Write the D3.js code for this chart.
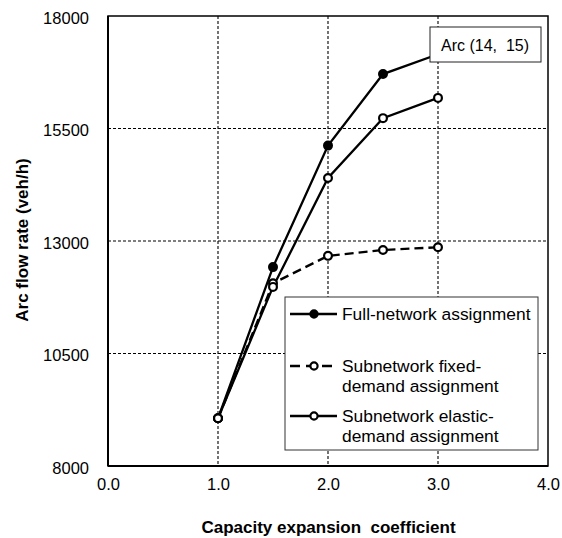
<!DOCTYPE html>
<html><head><meta charset="utf-8">
<script src="https://cdn.jsdelivr.net/npm/d3@7"></script>
<style>body{margin:0;background:#fff}svg{display:block;font-family:Arial,"Liberation Sans",sans-serif}</style>
</head><body><svg id="c" width="562" height="538"></svg>
<script>
const xValues = [1.0, 1.5, 2.0, 2.5, 3.0];
const fullNetwork = [9060, 12420, 15120, 16710, 17150];
const fixedDemand = [9060, 12060, 12670, 12800, 12860];
const elasticDemand = [9060, 11980, 14400, 15730, 16180];
const xTicks = [0, 1, 2, 3, 4];
const yTicks = [8000, 10500, 13000, 15500, 18000];
const seriesNames = ["Full-network assignment", "Subnetwork fixed-\ndemand assignment", "Subnetwork elastic-\ndemand assignment"];
const arcLabel = "Arc (14,\u00a0 15)";
const xTitle = "Capacity expansion\u00a0 coefficient";
const yTitle = "Arc flow rate (veh/h)";

const svg = d3.select("#c");
const L = 108, R = 548, T = 16, B = 466;
const x = d3.scaleLinear().domain([0, 4]).range([L, R]);
const y = d3.scaleLinear().domain([8000, 18000]).range([B, T]);

// grid
const g = svg.append("g");
g.selectAll(".gx").data(xTicks.slice(1, -1)).join("line")
  .attr("x1", d => x(d)).attr("x2", d => x(d)).attr("y1", T).attr("y2", B)
  .attr("stroke", "#000").attr("stroke-width", 1.1).attr("stroke-dasharray", "3,2");
g.selectAll(".gy").data(yTicks.slice(1, -1)).join("line")
  .attr("x1", L).attr("x2", R).attr("y1", d => y(d)).attr("y2", d => y(d))
  .attr("stroke", "#000").attr("stroke-width", 1.1).attr("stroke-dasharray", "3,2");

// frame
svg.append("rect").attr("x", L).attr("y", T).attr("width", R - L).attr("height", B - T)
  .attr("fill", "none").attr("stroke", "#000").attr("stroke-width", 1.5);
svg.append("line").attr("x1", L).attr("x2", L).attr("y1", T).attr("y2", B).attr("stroke", "#000").attr("stroke-width", 2);
svg.append("line").attr("x1", L).attr("x2", R).attr("y1", B).attr("y2", B).attr("stroke", "#000").attr("stroke-width", 2);

// axes labels
const xAxis = d3.axisBottom(x).tickValues(xTicks).tickFormat(d3.format(".1f")).tickSize(0).tickPadding(12);
const xa = svg.append("g").attr("transform", `translate(0,${B})`).call(xAxis);
xa.select(".domain").remove();
xa.selectAll("text").attr("font-size", 16.5).attr("font-family", "Arial, 'Liberation Sans', sans-serif").attr("fill", "#000");
const yAxis = d3.axisLeft(y).tickValues(yTicks).tickFormat(d3.format("d")).tickSize(0).tickPadding(19);
const ya = svg.append("g").attr("transform", `translate(${L},0)`).call(yAxis);
ya.select(".domain").remove();
ya.selectAll("text").attr("font-size", 16.5).attr("font-family", "Arial, 'Liberation Sans', sans-serif").attr("fill", "#000").attr("dy", "0.45em");

svg.append("text").attr("x", (201 + 456) / 2).attr("y", 527).attr("text-anchor", "middle")
  .attr("dominant-baseline", "central").attr("font-size", 17).attr("font-weight", "bold").text(xTitle);
svg.append("text").attr("transform", "translate(22,240) rotate(-90)").attr("text-anchor", "middle")
  .attr("dominant-baseline", "central").attr("font-size", 17).attr("font-weight", "bold").text(yTitle);

// series
const mk = vals => vals.map((v, i) => [xValues[i], v]);
const line = d3.line().x(d => x(d[0])).y(d => y(d[1]));
const series = [
  {data: mk(fullNetwork), dash: null, fill: "#000"},
  {data: mk(fixedDemand), dash: "9,5", fill: "#fff"},
  {data: mk(elasticDemand), dash: null, fill: "#fff"}
];
series.forEach(s => {
  svg.append("path").attr("d", line(s.data)).attr("fill", "none").attr("stroke", "#000")
    .attr("stroke-width", 2.3).attr("stroke-dasharray", s.dash);
});
series.forEach(s => {
  svg.append("g").selectAll("circle").data(s.data).join("circle")
    .attr("cx", d => x(d[0])).attr("cy", d => y(d[1])).attr("r", 3.9)
    .attr("fill", s.fill).attr("stroke", "#000").attr("stroke-width", 2.2);
});

// arc label box
svg.append("rect").attr("x", 430).attr("y", 27).attr("width", 111).attr("height", 35)
  .attr("fill", "#fff").attr("stroke", "#222").attr("stroke-width", 1);
svg.append("text").attr("x", 485).attr("y", 45).attr("text-anchor", "middle").attr("dominant-baseline", "central")
  .attr("font-size", 16).text(arcLabel);

// legend
const lg = svg.append("g");
lg.append("rect").attr("x", 285).attr("y", 297).attr("width", 253).attr("height", 153)
  .attr("fill", "#fff").attr("stroke", "#333").attr("stroke-width", 1);
const rowsY = [314, 366, 416];
series.forEach((s, i) => {
  const yy = rowsY[i];
  lg.append("line").attr("x1", 290).attr("x2", 337).attr("y1", yy).attr("y2", yy)
    .attr("stroke", "#000").attr("stroke-width", 2.3).attr("stroke-dasharray", s.dash ? "10,6" : null);
  lg.append("circle").attr("cx", 314).attr("cy", yy).attr("r", 3.6).attr("fill", s.fill).attr("stroke", "#000").attr("stroke-width", 2.2);
  const lines = seriesNames[i].split("\n");
  lines.forEach((t, j) => {
    lg.append("text").attr("x", 342).attr("y", yy + j * 20).attr("dominant-baseline", "central")
      .attr("font-size", 17.4).attr("fill", "#000").text(t);
  });
});
</script></body></html>
